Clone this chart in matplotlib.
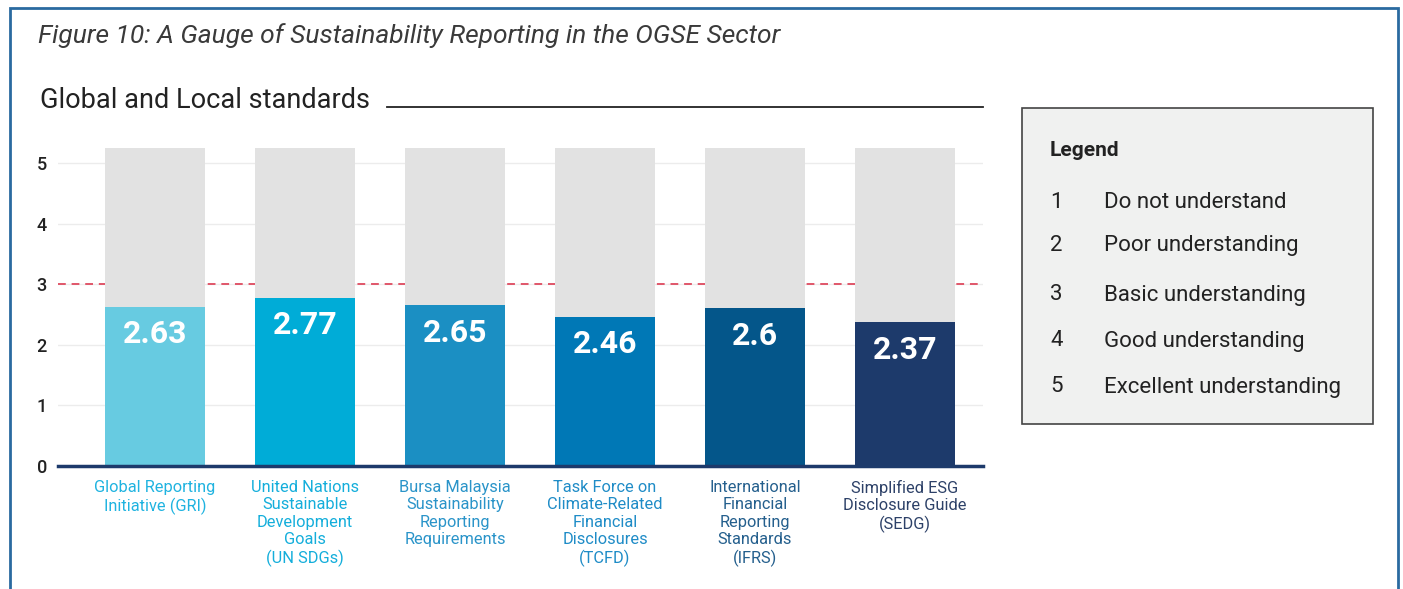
import matplotlib.pyplot as plt
from matplotlib.patches import Rectangle
from matplotlib.lines import Line2D

plt.rcParams['font.family'] = ['Roboto', 'DejaVu Sans']

# data
categories = [
    "Global Reporting\nInitiative (GRI)",
    "United Nations\nSustainable\nDevelopment\nGoals\n(UN SDGs)",
    "Bursa Malaysia\nSustainability\nReporting\nRequirements",
    "Task Force on\nClimate-Related\nFinancial\nDisclosures\n(TCFD)",
    "International\nFinancial\nReporting\nStandards\n(IFRS)",
    "Simplified ESG\nDisclosure Guide\n(SEDG)",
]
scores = [2.63, 2.77, 2.65, 2.46, 2.6, 2.37]
score_labels = ["2.63", "2.77", "2.65", "2.46", "2.6", "2.37"]
gauge_max = 5.25
threshold = 3
legend_levels = ["1", "2", "3", "4", "5"]
legend_texts = ["Do not understand", "Poor understanding", "Basic understanding",
                "Good understanding", "Excellent understanding"]

bar_colors = ["#67cbe1", "#00acd7", "#1b8fc3", "#0078b6", "#04568a", "#1d3a6b"]
label_colors = ["#1fb3e0", "#14aedb", "#2a94c9", "#1f8cc7", "#245f8d", "#2d4168"]

W, H = 1403, 589
fig = plt.figure(figsize=(W / 100, H / 100), dpi=100)


def fx(px):
    return px / W


def fy(py):
    return 1 - py / H


# outer frame
fig.patches.append(Rectangle((fx(10), fy(620)), fx(1398) - fx(10), fy(8) - fy(620),
                             transform=fig.transFigure, fill=False,
                             edgecolor="#2a6aa0", linewidth=2))

fig.text(fx(38), fy(36), "Figure 10: A Gauge of Sustainability Reporting in the OGSE Sector",
         fontsize=19, style="italic", color="#3a3a3a",
         va="center", ha="left")
fig.text(fx(40), fy(100), "Global and Local standards", fontsize=19.5,
         color="#222222", va="center", ha="left")
fig.lines.append(Line2D([fx(387), fx(983)], [fy(107), fy(107)],
                        transform=fig.transFigure, color="#222222", linewidth=1.3))

# chart
ax = fig.add_axes([fx(58), fy(466), fx(983) - fx(58), fy(140) - fy(466)])
x = list(range(len(categories)))
ax.bar(x, [gauge_max] * len(x), width=0.67, color="#e2e2e2", zorder=2)
ax.bar(x, scores, width=0.67, color=bar_colors, zorder=3)
for xi, s, lab in zip(x, scores, score_labels):
    ax.text(xi, s - 0.45, lab, ha="center", va="center", color="white",
            fontsize=23, fontweight="bold", zorder=4)

ax.axhline(threshold, color="#e0566a", linestyle=(0, (4, 3)), linewidth=1.4, zorder=1)
ax.set_xlim(-0.647, 5.52)
ax.set_ylim(0, 5.38)
ax.set_yticks([0, 1, 2, 3, 4, 5])
ax.grid(axis="y", color="#ececec", linewidth=1, zorder=0)
ax.set_axisbelow(True)
for sp in ["top", "right", "left"]:
    ax.spines[sp].set_visible(False)
ax.spines["bottom"].set_color("#1d3a6b")
ax.spines["bottom"].set_linewidth(2.5)
ax.spines["bottom"].set_zorder(5)
ax.tick_params(axis="y", length=0, pad=8, labelsize=13, labelcolor="#222222")
for t in ax.get_yticklabels():
    t.set_fontweight("medium")
ax.set_xticks(x)
ax.set_xticklabels(categories, fontsize=11.8, linespacing=1.2)
ax.tick_params(axis="x", length=0, pad=10)
for t, c in zip(ax.get_xticklabels(), label_colors):
    t.set_color(c)

# legend box
fig.patches.append(Rectangle((fx(1022), fy(424)), fx(1373) - fx(1022), fy(108) - fy(424),
                             transform=fig.transFigure, facecolor="#f0f1f0",
                             edgecolor="#444444", linewidth=1.2))
fig.text(fx(1050), fy(151), "Legend", fontsize=15, fontweight="bold", color="#222222",
         va="center", ha="left")
legend_y = [203, 246, 295, 341, 387]
for lv, txt, py in zip(legend_levels, legend_texts, legend_y):
    fig.text(fx(1050), fy(py), lv, fontsize=16, color="#222222", va="center", ha="left")
    fig.text(fx(1104), fy(py), txt, fontsize=16, color="#222222", va="center", ha="left")

fig.savefig("out.png", dpi=100)
